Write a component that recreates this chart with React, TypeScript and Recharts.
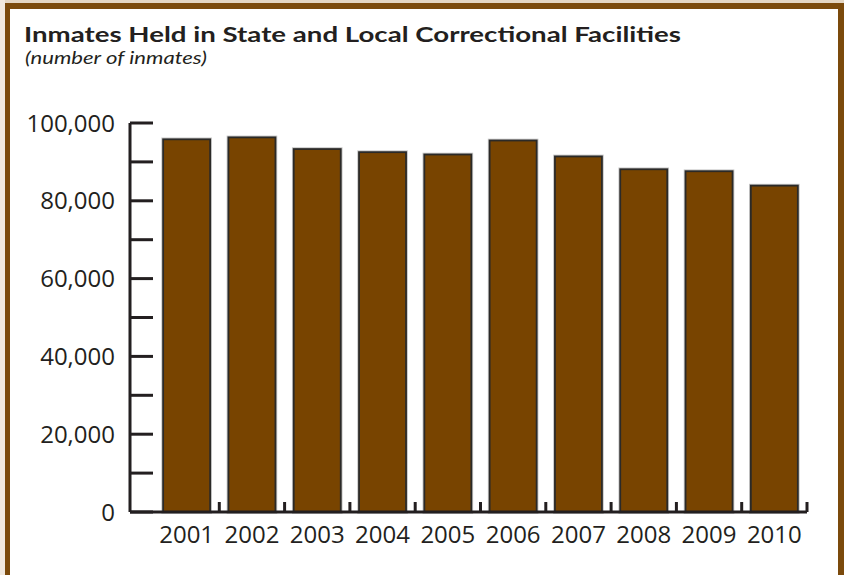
import React from "react";
import { BarChart, Bar, XAxis, YAxis } from "recharts";

const years = ["2001", "2002", "2003", "2004", "2005", "2006", "2007", "2008", "2009", "2010"];
const inmates = [95800, 96300, 93300, 92500, 91900, 95500, 91400, 88100, 87600, 83900];
const yTicks = [0, 10000, 20000, 30000, 40000, 50000, 60000, 70000, 80000, 90000, 100000];
const yLabelTicks = [0, 20000, 40000, 60000, 80000, 100000];

const TITLE = "Inmates Held in State and Local Correctional Facilities";
const SUBTITLE = "(number of inmates)";

const data = years.map((y, i) => ({ year: y, value: inmates[i] }));

const W = 844;
const H = 575;
const M_LEFT = 0;
const Y_W = 130;
const M_RIGHT = 37;
const M_TOP = 123;
const X_H = 63;
const PAD_LEFT = 24;
const PLOT_W = W - M_LEFT - Y_W - M_RIGHT;
const HALF_BAND = (PLOT_W - PAD_LEFT) / years.length / 2;

const INK = "#231f20";
const BROWN = "#784400";
const FRAME = "#7b4a0c";
const FONT = "'Open Sans', sans-serif";
const TITLE_FONT = "Lato, 'Open Sans', sans-serif";

const fmt = (v: number) =>
  yLabelTicks.includes(v) ? v.toLocaleString("en-US") : "";

const XTick = (props: any) => {
  const { x, y, payload } = props;
  return (
    <g>
      <line x1={x + HALF_BAND} x2={x + HALF_BAND} y1={y} y2={y - 10} stroke={INK} strokeWidth={3} />
      <text x={x} y={y + 31} textAnchor="middle" fill={INK} fontSize={24} fontFamily={FONT}>
        {payload.value}
      </text>
    </g>
  );
};

const BarShape = (props: any) => {
  const { x, y, width, height } = props;
  if (!height || height <= 0) return null;
  return (
    <g>
      <rect x={x} y={y} width={width} height={height} fill="none" stroke="#c4c4c4" strokeWidth={3.6} />
      <rect x={x} y={y} width={width} height={height} fill={BROWN} stroke="#2b2a28" strokeWidth={1.8} />
    </g>
  );
};

export default function App() {
  return (
    <div style={{ position: "absolute", left: 0, top: 0, width: W, height: H, background: "#fff", overflow: "hidden" }}>
      <div style={{ position: "absolute", left: 0, top: 0, width: W, height: 3, background: "#e4d6c3" }} />
      <div style={{ position: "absolute", left: 0, top: 0, width: 5, height: H, background: "#f1e9df" }} />
      <div style={{ position: "absolute", left: 5, top: 3, width: W - 5, height: 6, background: FRAME }} />
      <div style={{ position: "absolute", left: 5, top: 3, width: 5, height: H - 3, background: FRAME }} />
      <div style={{ position: "absolute", left: 838, top: 3, width: 6, height: H - 3, background: FRAME }} />
      <svg style={{ position: "absolute", left: 0, top: 0 }} width={W} height={80}>
        <text x={24} y={41.7} fontFamily={TITLE_FONT} fontWeight={700} fontSize={21} fill={INK} textLength={657} lengthAdjust="spacingAndGlyphs">
          {TITLE}
        </text>
        <text x={25} y={63.8} fontFamily={TITLE_FONT} fontStyle="italic" fontSize={17} fill={INK} textLength={182} lengthAdjust="spacingAndGlyphs">
          {SUBTITLE}
        </text>
      </svg>
      <div style={{ position: "absolute", left: 0, top: 0 }}>
        <BarChart
          width={W}
          height={H}
          data={data}
          margin={{ top: M_TOP, right: M_RIGHT, bottom: 0, left: M_LEFT }}
          barCategoryGap="14%"
        >
          <XAxis
            dataKey="year"
            height={X_H}
            padding={{ left: PAD_LEFT, right: 0 }}
            axisLine={{ stroke: INK, strokeWidth: 3 }}
            tickLine={false}
            tickSize={0}
            tickMargin={0}
            tick={<XTick />}
            interval={0}
          />
          <YAxis
            width={Y_W}
            domain={[0, 100000]}
            ticks={yTicks}
            interval={0}
            tickFormatter={fmt}
            axisLine={{ stroke: INK, strokeWidth: 3 }}
            tickLine={{ stroke: INK, strokeWidth: 3 }}
            tickSize={-23}
            tickMargin={38}
            tick={{ fill: INK, fontSize: 24, fontFamily: FONT }}
          />
          <Bar dataKey="value" isAnimationActive={false} shape={<BarShape />} />
        </BarChart>
      </div>
    </div>
  );
}
